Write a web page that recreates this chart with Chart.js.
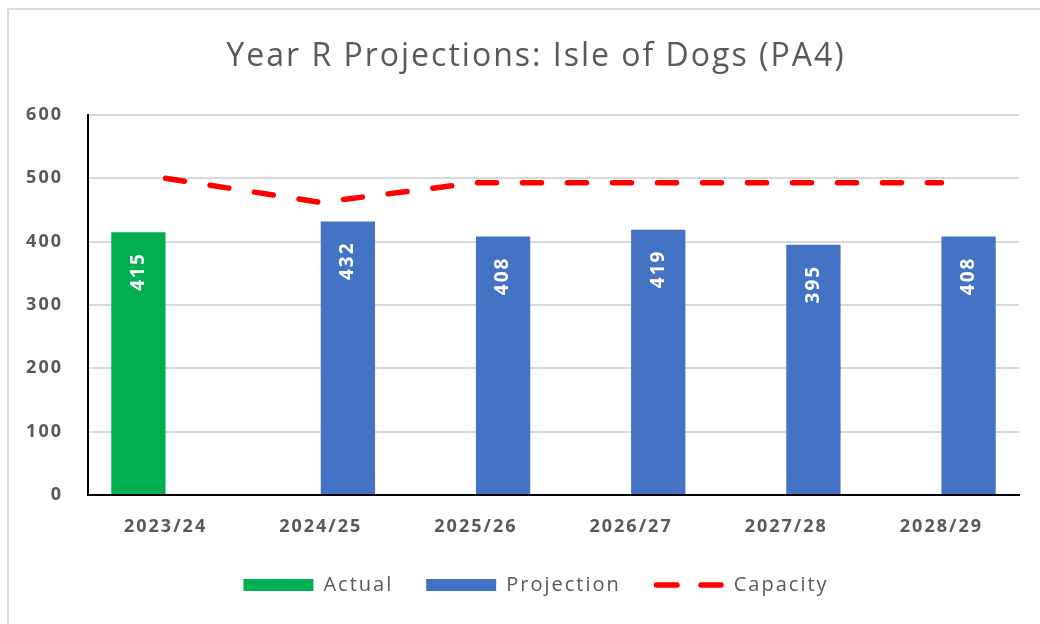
<!DOCTYPE html>
<html>
<head>
<meta charset="utf-8">
<script src="https://cdn.jsdelivr.net/npm/chart.js@4/dist/chart.umd.min.js"></script>
<style>
  html, body { margin: 0; padding: 0; background: #fff; overflow: hidden; }
  #wrap { position: relative; width: 1040px; height: 624px; overflow: hidden; }
  #frame { position: absolute; left: 7px; top: 8px; right: 0; bottom: 0;
           border-left: 2px solid #dcdcdc; border-top: 2px solid #dcdcdc; }
  canvas { position: absolute; left: 0; top: 0; }
</style>
</head>
<body>
<div id="wrap">
  <div id="frame"></div>
  <!-- the original chart runs past the right edge, so the canvas is wider and cropped -->
  <canvas id="chart" width="1072" height="624"></canvas>
</div>
<script>
const years = ["2023/24", "2024/25", "2025/26", "2026/27", "2027/28", "2028/29"];
const actual = [415, null, null, null, null, null];
const projection = [null, 432, 408, 419, 395, 408];
const capacity = [500, 462, 493, 493, 493, 493];

const grey = "#595959";
const capDash = [19, 26];

// canvas resets letterSpacing on resize, so set it again before each update
const spacing = {
  id: "spacing",
  beforeUpdate(chart) { chart.ctx.letterSpacing = "2px"; },
  beforeRender(chart) { chart.ctx.letterSpacing = "2px"; }
};

// white rotated value labels near the top of each bar
const barLabels = {
  id: "barLabels",
  afterDatasetsDraw(chart) {
    const ctx = chart.ctx;
    chart.data.datasets.forEach((ds, i) => {
      if (ds.type !== "bar") return;
      const meta = chart.getDatasetMeta(i);
      meta.data.forEach((bar, j) => {
        const v = ds.data[j];
        if (v == null) return;
        ctx.save();
        ctx.translate(bar.x, bar.y + 20);
        ctx.rotate(-Math.PI / 2);
        ctx.fillStyle = "#fff";
        ctx.font = "bold 19px 'Open Sans'";
        ctx.textAlign = "right";
        ctx.textBaseline = "middle";
        ctx.fillText(String(v), 0, 0);
        ctx.restore();
      });
    });
  }
};

// the legend's point style drops the dash, so draw the capacity swatch here
const dashSwatch = {
  id: "dashSwatch",
  afterDraw(chart) {
    const legend = chart.legend;
    const idx = legend.legendItems.findIndex(it => it.text === "Capacity");
    if (idx < 0) return;
    const hb = legend.legendHitBoxes[idx];
    const y = hb.top + hb.height / 2;
    const ctx = chart.ctx;
    ctx.save();
    ctx.strokeStyle = "#FF0000";
    ctx.lineWidth = 5.5;
    ctx.lineCap = "round";
    ctx.setLineDash([20.5, 24]);
    ctx.beginPath();
    ctx.moveTo(hb.left + 2.75, y);
    ctx.lineTo(hb.left + 67.25, y);
    ctx.stroke();
    ctx.restore();
  }
};

new Chart(document.getElementById("chart"), {
  data: {
    labels: years,
    datasets: [
      {
        type: "bar",
        label: "Actual",
        data: actual,
        backgroundColor: "#00B050",
        pointStyle: "rect",
        order: 2
      },
      {
        type: "bar",
        label: "Projection",
        data: projection,
        backgroundColor: "#4472C4",
        pointStyle: "rect",
        order: 2
      },
      {
        type: "line",
        label: "Capacity",
        data: capacity,
        borderColor: "#FF0000",
        backgroundColor: "#FF0000",
        borderWidth: 5.5,
        borderDash: capDash,
        borderCapStyle: "round",
        pointRadius: 0,
        pointStyle: "line",
        tension: 0,
        order: 1
      }
    ]
  },
  options: {
    responsive: false,
    animation: false,
    layout: { padding: { left: 0, right: 0, top: 0, bottom: 19 } },
    datasets: { bar: { categoryPercentage: 0.7, barPercentage: 1.0 } },
    plugins: {
      title: {
        display: true,
        text: "Year R Projections: Isle of Dogs (PA4)",
        color: grey,
        font: { family: "'Open Sans'", size: 32, weight: "normal" },
        padding: { top: 38, bottom: 38.6 }
      },
      legend: {
        position: "bottom",
        labels: {
          usePointStyle: true,
          pointStyleWidth: 70,
          boxHeight: 12,
          color: grey,
          padding: 33,
          font: { family: "'Open Sans'", size: 20 },
          sort: (a, b) => a.datasetIndex - b.datasetIndex,
          generateLabels(chart) {
            const items = Chart.defaults.plugins.legend.labels.generateLabels(chart);
            items.forEach(it => {
              if (it.text === "Capacity") {
                it.strokeStyle = "rgba(0,0,0,0)";
                it.fillStyle = "rgba(0,0,0,0)";
              }
            });
            return items;
          }
        }
      },
      tooltip: { enabled: false }
    },
    scales: {
      x: {
        afterFit(scale) { scale.height = 47; },
        grid: { display: false, drawTicks: false },
        border: { display: true, color: "#000", width: 2 },
        ticks: {
          color: grey,
          padding: 21,
          font: { family: "'Open Sans'", size: 18, weight: "bold" }
        }
      },
      y: {
        min: 0,
        max: 600,
        afterFit(scale) { scale.width = 88; },
        grid: { color: "#d9d9d9", lineWidth: 2, drawTicks: false },
        border: { display: true, color: "#000", width: 2 },
        ticks: {
          stepSize: 100,
          color: grey,
          padding: 25,
          font: { family: "'Open Sans'", size: 18, weight: "bold" }
        }
      },
      // empty right-hand spacer: keeps the plot's right edge where the original has it
      spacer: {
        type: "linear",
        position: "right",
        afterFit(scale) { scale.width = 53; },
        grid: { display: false, drawTicks: false },
        border: { display: false },
        ticks: { display: false }
      }
    }
  },
  plugins: [spacing, barLabels, dashSwatch]
});
</script>
</body>
</html>
